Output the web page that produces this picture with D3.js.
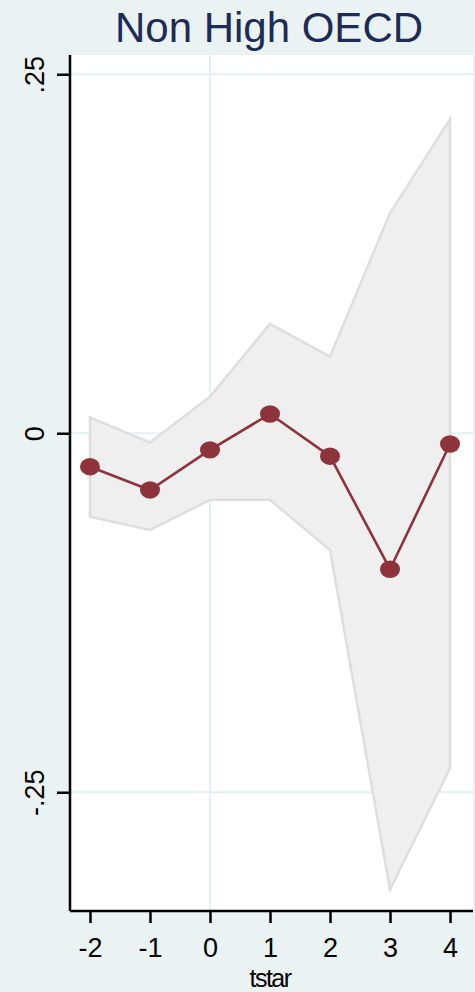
<!DOCTYPE html>
<html><head><meta charset="utf-8">
<script src="https://cdn.jsdelivr.net/npm/d3@7"></script>
<style>html,body{margin:0;padding:0;background:#eaf2f3;}svg{display:block;}</style>
</head><body>
<script>
const tstar = [-2, -1, 0, 1, 2, 3, 4];
const coef  = [-0.0233, -0.0395, -0.0116, 0.0134, -0.0160, -0.0947, -0.0075];
const upper = [0.0111, -0.0065, 0.0255, 0.0761, 0.0533, 0.1534, 0.2187];
const lower = [-0.0581, -0.0673, -0.0464, -0.0464, -0.0813, -0.3177, -0.2333];
const yTicks = [0.25, 0, -0.25];
const yTickLabels = [".25", "0", "-.25"];
const xTicks = [-2, -1, 0, 1, 2, 3, 4];
const title = "Non High OECD";
const xTitle = "tstar";

const W = 475, H = 992;
const plot = {left: 70, right: 473, top: 55, bottom: 911};
const svg = d3.select("body").append("svg").attr("width", W).attr("height", H);
svg.append("rect").attr("width", W).attr("height", H).attr("fill", "#eaf2f3");
svg.append("rect").attr("x", plot.left).attr("y", plot.top)
  .attr("width", plot.right - plot.left).attr("height", plot.bottom - plot.top).attr("fill", "#ffffff");

const x = d3.scaleLinear().domain([-2.333, 4.383]).range([plot.left, plot.right]);
const y = d3.scaleLinear().domain([-0.3327, 0.2634]).range([plot.bottom, plot.top]);

// grid
svg.append("g").selectAll("line").data(yTicks).join("line")
  .attr("x1", plot.left).attr("x2", plot.right)
  .attr("y1", d => y(d)).attr("y2", d => y(d))
  .attr("stroke", "#e6eff1").attr("stroke-width", 2);
svg.append("line").attr("x1", x(0)).attr("x2", x(0)).attr("y1", plot.top).attr("y2", plot.bottom)
  .attr("stroke", "#e6eff1").attr("stroke-width", 2);

// CI band
const data = tstar.map((t, i) => ({t, c: coef[i], u: upper[i], l: lower[i]}));
const area = d3.area().x(d => x(d.t)).y0(d => y(d.l)).y1(d => y(d.u));
svg.append("path").datum(data).attr("d", d => area(d) + "Z")
  .attr("fill", "#efefef").attr("stroke", "#dedede").attr("stroke-width", 2.5)
  .attr("stroke-linejoin", "miter");

// line
svg.append("path").datum(data)
  .attr("d", d3.line().x(d => x(d.t)).y(d => y(d.c)))
  .attr("fill", "none").attr("stroke", "#8e323c").attr("stroke-width", 2.6);
svg.append("g").selectAll("ellipse").data(data).join("ellipse")
  .attr("cx", d => x(d.t)).attr("cy", d => y(d.c)).attr("rx", 10).attr("ry", 8.7)
  .attr("fill", "#8e323c");

// axes
const yAxis = d3.axisLeft(y).tickValues(yTicks).tickSize(13).tickFormat((d, i) => yTickLabels[i]);
const gy = svg.append("g").attr("transform", `translate(${plot.left},0)`).call(yAxis);
gy.select(".domain").attr("d", `M0,${plot.top}V${plot.bottom}`).attr("stroke", "#000").attr("stroke-width", 2.5);
gy.selectAll(".tick line").attr("stroke", "#000").attr("stroke-width", 2.5);
gy.selectAll(".tick text")
  .attr("font-family", "Liberation Sans, Arial, sans-serif").attr("font-size", 27).attr("fill", "#000")
  .attr("transform", "rotate(-90)").attr("x", 0).attr("y", -26).attr("dy", 0)
  .attr("text-anchor", "middle");

const xAxis = d3.axisBottom(x).tickValues(xTicks).tickSize(12).tickFormat(d3.format("d"));
const gx = svg.append("g").attr("transform", `translate(0,${plot.bottom})`).call(xAxis);
gx.select(".domain").attr("d", `M${plot.left},0H${plot.right}`).attr("stroke", "#000").attr("stroke-width", 2.5);
gx.selectAll(".tick line").attr("stroke", "#000").attr("stroke-width", 2.5);
gx.selectAll(".tick text")
  .attr("font-family", "Liberation Sans, Arial, sans-serif").attr("font-size", 27).attr("fill", "#000")
  .attr("y", 46).attr("dy", 0).text(d => d < 0 ? "-" + Math.abs(d) : d);

svg.append("text").attr("x", 270).attr("y", 987)
  .attr("text-anchor", "middle").attr("font-family", "Liberation Sans, Arial, sans-serif")
  .attr("font-size", 25).attr("letter-spacing", -1.5).attr("fill", "#000").text(xTitle);

svg.append("text").attr("x", 269).attr("y", 42)
  .attr("text-anchor", "middle").attr("font-family", "Liberation Sans, Arial, sans-serif")
  .attr("font-size", 42).attr("fill", "#1c2b58").text(title);
</script>
</body></html>
